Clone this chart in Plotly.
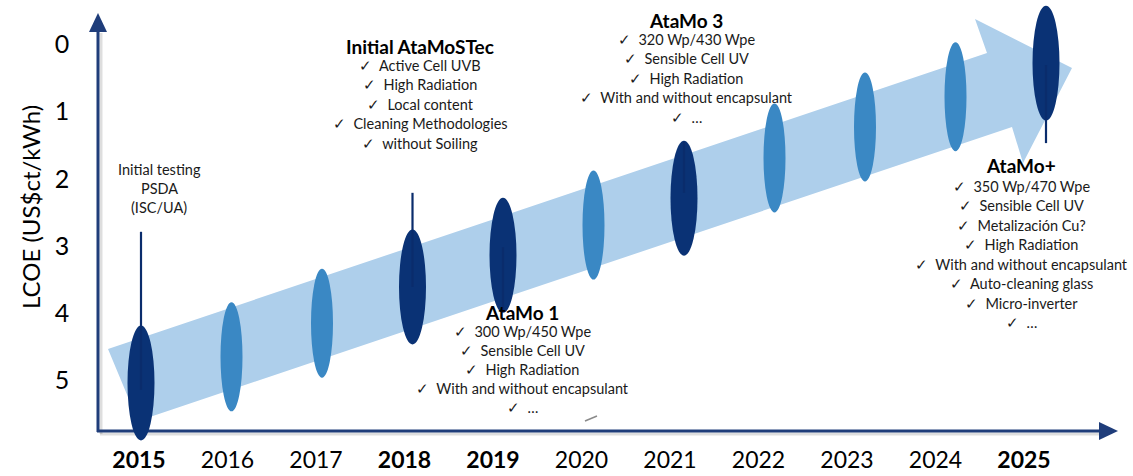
import plotly.graph_objects as go

# ---------------- data ----------------
years = [2015, 2016, 2017, 2018, 2019, 2020, 2021, 2022, 2023, 2024, 2025]
lcoe = [5.0, 4.61, 4.11, 3.57, 3.10, 2.65, 2.25, 1.65, 1.19, 0.74, 0.24]
key_years = [2015, 2018, 2019, 2025]          # bold year labels
dark_years = [2015, 2018, 2019, 2021, 2025]   # milestone ellipses
y_ticks = [0, 1, 2, 3, 4, 5]
y_title = "LCOE (US$ct/kWh)"

# callout / inner lines of milestone ellipses (LCOE from -> to)
stick_years = [2015, 2018, 2019, 2021, 2025]
stick_from = [2.75, 2.17, 2.98, 1.41, 0.27]
stick_to = [5.10, 3.57, 3.91, 2.17, 1.43]

testing_lines = ["Initial testing", "PSDA", "(ISC/UA)"]
stec_title = "Initial AtaMoSTec"
stec_items = ["Active Cell UVB", "High Radiation", "Local content",
              "Cleaning Methodologies", "without Soiling"]
mo1_title = "AtaMo 1"
mo1_items = ["300 Wp/450 Wpe", "Sensible Cell UV", "High Radiation",
             "With and without encapsulant", "…"]
mo3_title = "AtaMo 3"
mo3_items = ["320 Wp/430 Wpe", "Sensible Cell UV", "High Radiation",
             "With and without encapsulant", "…"]
plus_title = "AtaMo+"
plus_items = ["350 Wp/470 Wpe", "Sensible Cell UV", "Metalización Cu?",
              "High Radiation", "With and without encapsulant",
              "Auto-cleaning glass", "Micro-inverter", "…"]

# ---------------- layout constants ----------------
W, H = 1133, 476
X0_PX, X_PER_YEAR = 141.0, 90.5      # marks axis
XL0_PX, XL_PER_YEAR = 139.0, 88.5    # year-label axis
Y0_PX, Y_PER_UNIT = 47.0, 67.2

DARK = "#0A3275"
MID = "#3A88C4"
LIGHT = "#AECFEB"
AXIS = "#1F3D7A"
STICK = "#0A2C6C"
TXT = "#1a1a1a"
FONT = "Lato, 'Open Sans', sans-serif"


def X(px):
    return 2015 + (px - X0_PX) / X_PER_YEAR


def Y(py):
    return (py - Y0_PX) / Y_PER_UNIT


fig = go.Figure()

shapes = []
# axis shadows
shapes.append(dict(type="line", xref="x", yref="y", x0=X(101), x1=X(101), y0=Y(434), y1=Y(33),
                   line=dict(color="rgba(0,0,0,0.13)", width=3), layer="below"))
shapes.append(dict(type="line", xref="x", yref="y", x0=X(100), x1=X(1100), y0=Y(434), y1=Y(434),
                   line=dict(color="rgba(0,0,0,0.13)", width=3), layer="below"))
# axes
shapes.append(dict(type="line", xref="x", yref="y", x0=X(98), x1=X(98), y0=Y(432), y1=Y(30),
                   line=dict(color=AXIS, width=3)))
shapes.append(dict(type="line", xref="x", yref="y", x0=X(97), x1=X(1101), y0=Y(431), y1=Y(431),
                   line=dict(color=AXIS, width=3)))
shapes.append(dict(type="path", xref="x", yref="y",
                   path=f"M {X(98)},{Y(13)} L {X(89)},{Y(32)} L {X(107)},{Y(32)} Z",
                   fillcolor=AXIS, line=dict(width=0)))
shapes.append(dict(type="path", xref="x", yref="y",
                   path=f"M {X(1118)},{Y(431)} L {X(1099)},{Y(422)} L {X(1099)},{Y(440)} Z",
                   fillcolor=AXIS, line=dict(width=0)))

# big light arrow
arrow_px = [(108, 349), (987, 53), (975, 19), (1072, 68), (1023, 163), (1012, 127), (138, 421)]
p = "M " + " L ".join(f"{X(a)},{Y(b)}" for a, b in arrow_px) + " Z"
shapes.append(dict(type="path", xref="x", yref="y", path=p, fillcolor=LIGHT, line=dict(width=0)))

# ellipses
for yr, v in zip(years, lcoe):
    dark = yr in dark_years
    wpx, hpx = (27, 115) if dark else (22, 109)
    hw = wpx / 2 / X_PER_YEAR
    hh = hpx / 2 / Y_PER_UNIT
    shapes.append(dict(type="circle", xref="x", yref="y", x0=yr - hw, x1=yr + hw,
                       y0=v - hh, y1=v + hh, fillcolor=DARK if dark else MID, line=dict(width=0)))

# sticks
for yr, a, b in zip(stick_years, stick_from, stick_to):
    shapes.append(dict(type="line", xref="x", yref="y", x0=yr, x1=yr, y0=a, y1=b,
                       line=dict(color=STICK, width=2.2)))

# small gray dash artifact
shapes.append(dict(type="line", xref="x", yref="y", x0=X(585), x1=X(597), y0=Y(421), y1=Y(416),
                   line=dict(color="#8a8a8a", width=1.5)))

# year labels (own axis)
fig.add_trace(go.Scatter(
    x=years, y=[Y(462)] * len(years), xaxis="x2", yaxis="y", mode="text",
    text=[f"<b>{y}</b>" if y in key_years else str(y) for y in years],
    textfont=dict(family=FONT, size=23, color="#000000"),
    textposition="middle center", hoverinfo="skip", showlegend=False))

# y tick labels
fig.add_trace(go.Scatter(
    x=[X(62)] * len(y_ticks), y=y_ticks, mode="text",
    text=[str(t) for t in y_ticks],
    textfont=dict(family=FONT, size=25, color="#000000"),
    textposition="middle center", hoverinfo="skip", showlegend=False))

ann = []


def txt(px, py, s, size=14.5, bold=False, color=TXT, angle=0):
    ann.append(dict(xref="x", yref="y", x=X(px), y=Y(py), text=f"<b>{s}</b>" if bold else s,
                    showarrow=False, xanchor="center", yanchor="middle", textangle=angle,
                    font=dict(family=FONT, size=size, color=color)))


txt(30, 207, y_title, size=24, color="#000000", angle=-90)

for i, s in enumerate(testing_lines):
    txt(159, 169 + i * 19, s, size=14.5)


def block(cx, ty, title, items, iy, step, tsize=19):
    txt(cx, ty, title, size=tsize, bold=True, color="#000000")
    for i, s in enumerate(items):
        txt(cx, iy + i * step, "✓  " + s, size=14.5)


block(420, 46, stec_title, stec_items, 65, 19.5)
block(686, 20, mo3_title, mo3_items, 39, 19.6)
block(522, 312, mo1_title, mo1_items, 331, 19.0)
block(1021, 165, plus_title, plus_items, 186, 19.5)

fig.update_layout(
    width=W, height=H, margin=dict(l=0, r=0, t=0, b=0),
    paper_bgcolor="white", plot_bgcolor="white",
    shapes=shapes, annotations=ann, showlegend=False,
    xaxis=dict(range=[X(0), X(W)], visible=False, fixedrange=True),
    xaxis2=dict(range=[2015 - XL0_PX / XL_PER_YEAR, 2015 + (W - XL0_PX) / XL_PER_YEAR],
                overlaying="x", visible=False, fixedrange=True),
    yaxis=dict(range=[Y(H), Y(0)], visible=False, fixedrange=True),
)

fig.write_html("out.html")
